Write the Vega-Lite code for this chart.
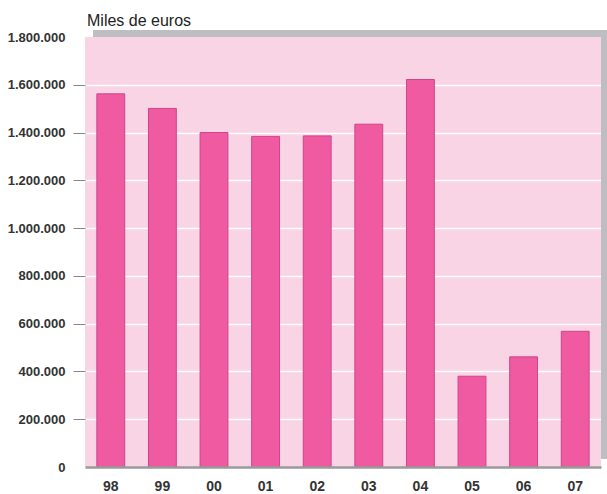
{
  "$schema": "https://vega.github.io/schema/vega-lite/v6.json",
  "width": 516,
  "height": 430,
  "autosize": {"type": "none"},
  "padding": {"left": 85, "top": 37, "right": 6, "bottom": 27},
  "background": "white",
  "title": {
    "text": "Miles de euros",
    "anchor": "start",
    "frame": "group",
    "font": "Liberation Sans",
    "fontSize": 16,
    "fontWeight": "normal",
    "color": "#222222",
    "offset": 1,
    "dx": 2
  },
  "config": {
    "view": {"stroke": null, "fill": "#F8D4E5"},
    "locale": {"number": {"decimal": ",", "thousands": ".", "grouping": [3], "currency": ["", " €"]}}
  },
  "data": {
    "values": [
      {"year": "98", "value": 1562000},
      {"year": "99", "value": 1501000},
      {"year": "00", "value": 1400000},
      {"year": "01", "value": 1384000},
      {"year": "02", "value": 1386000},
      {"year": "03", "value": 1435000},
      {"year": "04", "value": 1622000},
      {"year": "05", "value": 380000},
      {"year": "06", "value": 461000},
      {"year": "07", "value": 568000}
    ]
  },
  "layer": [
    {
      "mark": {"type": "rect", "fill": "#BEBEC2", "yOffset": -7},
      "encoding": {
        "x": {"value": 8},
        "x2": {"value": {"expr": "width + 6"}},
        "y": {"datum": 1800000, "type": "quantitative"},
        "y2": {"datum": 1800000}
      }
    },
    {
      "mark": {"type": "rect", "fill": "#BEBEC2", "yOffset": -7},
      "encoding": {
        "x": {"value": {"expr": "width"}},
        "x2": {"value": {"expr": "width + 6"}},
        "y": {"datum": 1800000, "type": "quantitative"},
        "y2": {"datum": 37000}
      }
    },
    {
      "mark": {"type": "bar", "fill": "#EF5AA1", "stroke": "#CF4488", "strokeWidth": 1},
      "encoding": {
        "x": {
          "field": "year",
          "type": "nominal",
          "sort": null,
          "scale": {"paddingInner": 0.46, "paddingOuter": 0.23},
          "axis": {
            "title": null,
            "labelAngle": 0,
            "labelFont": "Liberation Sans",
            "labelFontWeight": "bold",
            "labelFontSize": 14,
            "labelColor": "#333333",
            "labelPadding": 12,
            "ticks": false,
            "domainColor": "#9A9A9A",
            "domainWidth": 2.5,
            "zindex": 1
          }
        },
        "y": {
          "field": "value",
          "type": "quantitative",
          "scale": {"domain": [0, 1800000], "nice": false},
          "axis": {
            "title": null,
            "values": [0, 200000, 400000, 600000, 800000, 1000000, 1200000, 1400000, 1600000, 1800000],
            "format": ",.0f",
            "labelFont": "Liberation Sans",
            "labelFontWeight": "bold",
            "labelFontSize": 13,
            "labelColor": "#333333",
            "labelPadding": 8,
            "domain": false,
            "tickSize": 12,
            "tickColor": "#888888",
            "tickOpacity": {"condition": {"test": "datum.value <= 0 || datum.value >= 1800000", "value": 0}, "value": 1},
            "grid": true,
            "gridColor": "#FFFFFF",
            "gridWidth": 1.5,
            "gridOpacity": {"condition": {"test": "datum.value <= 0 || datum.value >= 1800000", "value": 0}, "value": 1},
            "zindex": 0
          }
        }
      }
    }
  ]
}
